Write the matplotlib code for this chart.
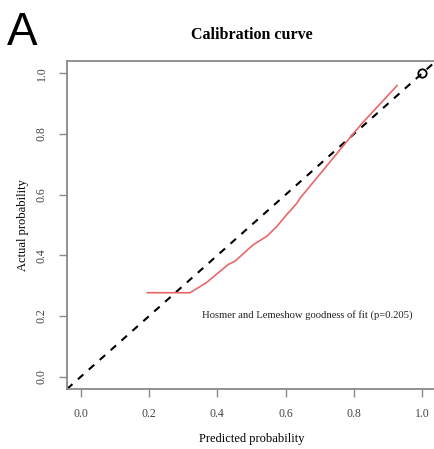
import numpy as np
import matplotlib.pyplot as plt

# calibration curve
pred = [0.195, 0.271, 0.320, 0.368, 0.432, 0.452, 0.505, 0.545, 0.574, 0.603,
        0.633, 0.642, 0.779, 0.823, 0.926]
actual = [0.277, 0.277, 0.277, 0.310, 0.370, 0.381, 0.435, 0.463, 0.495, 0.534,
          0.572, 0.588, 0.775, 0.834, 0.959]
ticks = [0.0, 0.2, 0.4, 0.6, 0.8, 1.0]
tick_labels = ['0.0', '0.2', '0.4', '0.6', '0.8', '1.0']
hl_text = 'Hosmer and Lemeshow goodness of fit (p=0.205)'

serif = 'Liberation Serif'
gray = '#8a8a8a'

fig = plt.figure(figsize=(4.35, 4.49), dpi=100)
ax = fig.add_axes([67 / 435, 1 - 389 / 449, 369 / 435, 328 / 449])

ax.axline((0, 0), (1, 1), color='black', lw=1.5, ls=(0, (3.5, 3.5)))
ax.plot([1.0], [1.0], marker='o', ms=6, mfc='none', mec='black', mew=1.3)
ax.plot(pred, actual, color='#e8686a', lw=1.2)

ax.text(0.355, 0.205, hl_text, fontsize=7.7, family=serif, color='#222222', va='center')

ax.set_xlim(-0.04, 1.04)
ax.set_ylim(-0.04, 1.04)
ax.set_xticks(ticks)
ax.set_xticklabels(tick_labels, family=serif, fontsize=8.5, color='#444444')
ax.set_yticks(ticks)
ax.set_yticklabels(tick_labels, family=serif, fontsize=8.5, color='#444444',
                   rotation=90, va='center')
ax.tick_params(length=6, width=1, color=gray)
ax.tick_params(axis='x', pad=8)
ax.tick_params(axis='y', pad=8)
for s in ax.spines.values():
    s.set_color(gray)
    s.set_linewidth(1.3)
ax.spines['right'].set_color('#ececec')

ax.set_xlabel('Predicted probability', family=serif, fontsize=9, labelpad=9)
ax.set_ylabel('Actual probability', family=serif, fontsize=9, labelpad=5)

fig.text(252 / 435, 1 - 35 / 449, 'Calibration curve', family=serif, fontsize=11.5,
         fontweight='bold', ha='center', va='center')
fig.text(7 / 435, 1 - 45 / 449, 'A', family='Liberation Sans', fontsize=33,
         ha='left', va='baseline')

fig.savefig('out.png', dpi=100)
